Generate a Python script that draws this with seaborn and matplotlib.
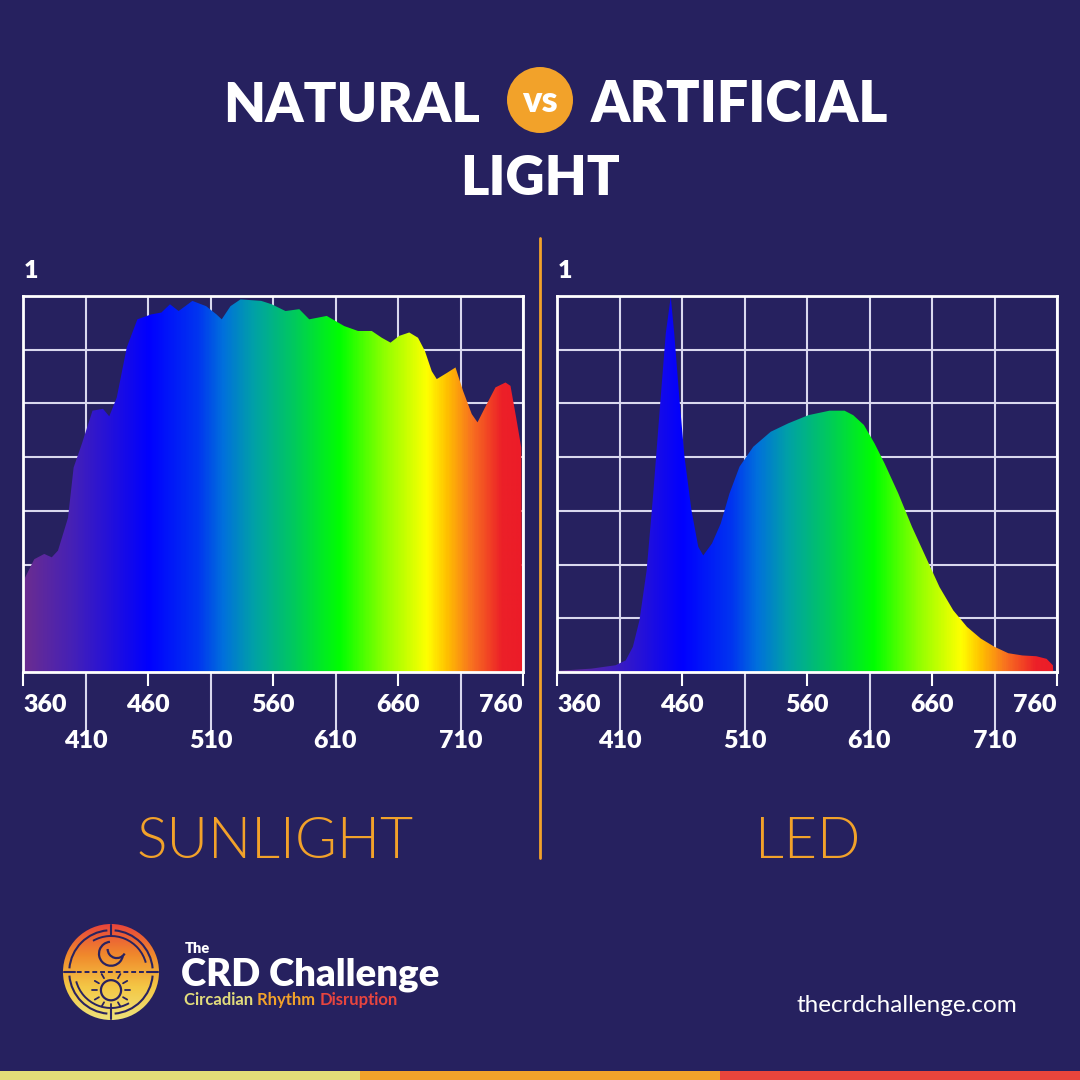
import numpy as np
import matplotlib
matplotlib.use('Agg')
import matplotlib.pyplot as plt
import seaborn as sns
from matplotlib.colors import LinearSegmentedColormap
from matplotlib.patches import Circle, Arc, Rectangle
from matplotlib.lines import Line2D

# sunlight spectrum (wavelength nm, relative power)
sun_nm = [360, 369, 377, 383, 388, 396, 400.5, 407, 415.6, 424, 429, 435, 443, 451.5,
          462.5, 470.7, 477.6, 484.5, 495.5, 506.5, 514.8, 519, 526, 534, 550.6, 559,
          570, 581, 589, 603, 617, 628, 639, 647, 654, 661, 669, 676, 681.5, 687, 691,
          699.4, 706, 712, 719, 723.6, 729.7, 738, 746, 750, 754.5, 758.6, 759.5]
sun_val = [0.24, 0.30, 0.314, 0.305, 0.323, 0.41, 0.544, 0.606, 0.695, 0.70, 0.68, 0.73,
           0.863, 0.938, 0.951, 0.956, 0.978, 0.96, 0.987, 0.973, 0.951, 0.938, 0.973,
           0.991, 0.987, 0.978, 0.96, 0.965, 0.938, 0.947, 0.92, 0.907, 0.907, 0.889,
           0.876, 0.894, 0.903, 0.889, 0.854, 0.80, 0.779, 0.796, 0.81, 0.748, 0.686,
           0.664, 0.704, 0.757, 0.77, 0.761, 0.677, 0.597, 0.0]

# white LED spectrum
led_nm = [360, 387.6, 406.9, 415, 420.7, 426, 431.7, 437, 442.8, 447, 451, 453.8, 458,
          462, 467.6, 473, 477, 484, 491, 498, 506, 517, 531, 544.8, 561, 578, 590, 597,
          605.5, 614, 622, 633, 644, 655, 666, 677, 688, 699, 710, 721, 732.4, 743.4,
          751.7, 756.7, 757]
led_val = [0.003, 0.009, 0.018, 0.031, 0.067, 0.138, 0.27, 0.475, 0.724, 0.90, 0.998,
           0.90, 0.724, 0.572, 0.43, 0.333, 0.31, 0.342, 0.395, 0.475, 0.546, 0.599,
           0.639, 0.661, 0.683, 0.695, 0.695, 0.683, 0.657, 0.608, 0.555, 0.475, 0.386,
           0.306, 0.226, 0.164, 0.12, 0.089, 0.067, 0.05, 0.044, 0.042, 0.035, 0.018, 0.0]

major_ticks = [360, 460, 560, 660, 760]
minor_ticks = [410, 510, 610, 710]
panel_names = ['SUNLIGHT', 'LED']

BG = '#26215f'
ORANGE = '#f2a22a'
GRID = '#d9d8ee'
PX = 1080.0

spectrum = LinearSegmentedColormap.from_list('spec', [
    (0.00, '#6b2d90'), (0.10, '#4420b8'), (0.25, '#0000ff'), (0.35, '#0035f0'),
    (0.40, '#0070dc'), (0.46, '#00a0a8'), (0.54, '#00c860'), (0.635, '#00ff00'),
    (0.725, '#90ff00'), (0.81, '#ffff00'), (0.85, '#ffc000'), (0.90, '#f87020'),
    (0.96, '#ec2028'), (1.00, '#ec1c28')])

sns.set_theme(style='white')
plt.rcParams['font.family'] = ['Lato', 'DejaVu Sans']

fig = plt.figure(figsize=(10.8, 10.8), dpi=100, facecolor=BG)


def fx(x):
    return x / PX


def fy(y):
    return 1 - y / PX


def draw_panel(ax, nm, vals):
    ax.set_facecolor(BG)
    sns.lineplot(x=nm, y=vals, ax=ax, color='white', linewidth=0)
    poly = ax.fill_between(nm, vals, 0, facecolor='none', edgecolor='none')
    grad = np.linspace(0, 1, 600).reshape(1, -1)
    im = ax.imshow(grad, extent=[360, 760, 0, 1], aspect='auto', cmap=spectrum,
                   zorder=2, interpolation='bilinear')
    im.set_clip_path(poly.get_paths()[0], transform=ax.transData)
    ax.set_xlim(360, 760)
    ax.set_ylim(0, 1)
    ax.set_xlabel('')
    ax.set_ylabel('')

    ax.set_xticks(major_ticks)
    ax.set_xticklabels([str(t) for t in major_ticks])
    ax.set_xticks(minor_ticks, minor=True)
    ax.set_xticklabels([str(t) for t in minor_ticks], minor=True)
    ax.set_yticks(np.linspace(0, 1, 8))
    ax.set_yticklabels([])
    ax.tick_params(axis='x', which='both', bottom=True, direction='out', width=1.5,
                   labelcolor='white', labelsize=18)
    ax.tick_params(axis='x', which='major', length=10, pad=6, color='white')
    ax.tick_params(axis='x', which='minor', length=48, pad=-6, color=GRID)
    ax.tick_params(axis='y', length=0, left=False)
    for lab in ax.get_xticklabels() + ax.get_xticklabels(minor=True):
        lab.set_fontweight('heavy')
    labs = ax.get_xticklabels()
    labs[0].set_horizontalalignment('left')
    labs[-1].set_horizontalalignment('right')

    ax.set_axisbelow(True)
    ax.grid(True, which='both', axis='x', color=GRID, linewidth=1.5)
    ax.grid(True, which='major', axis='y', color=GRID, linewidth=1.5)
    for sp in ax.spines.values():
        sp.set_visible(True)
        sp.set_color('white')
        sp.set_linewidth(2)
        sp.set_zorder(3)


ax1 = fig.add_axes([fx(23), fy(672), fx(500), fx(376)])
ax2 = fig.add_axes([fx(557), fy(672), fx(500), fx(376)])
draw_panel(ax1, sun_nm, sun_val)
draw_panel(ax2, led_nm, led_val)

# "1" labels on the y scale
fig.text(fx(24), fy(278), '1', color='white', fontsize=18, fontweight='heavy',
         ha='left', va='baseline')
fig.text(fx(558), fy(278), '1', color='white', fontsize=18, fontweight='heavy',
         ha='left', va='baseline')

# panel names
for name, cx in zip(panel_names, [275, 808]):
    fig.text(fx(cx), fy(858), name, color=ORANGE, fontsize=41, fontweight=300,
             ha='center', va='baseline')

# divider
fig.add_artist(Line2D([fx(540), fx(540)], [fy(238), fy(858)], transform=fig.transFigure,
                      color=ORANGE, linewidth=2))

# title
fig.text(fx(480), fy(122), 'NATURAL', color='white', fontsize=39, fontweight='heavy',
         ha='right', va='baseline')
fig.text(fx(591), fy(122), 'ARTIFICIAL', color='white', fontsize=40, fontweight='heavy',
         ha='left', va='baseline')
fig.text(fx(540), fy(195), 'LIGHT', color='white', fontsize=39, fontweight='heavy',
         ha='center', va='baseline')
fig.add_artist(Circle((fx(540), fy(100)), fx(33), transform=fig.transFigure,
                      facecolor=ORANGE, edgecolor='none'))
fig.text(fx(540), fy(112), 'vs', color='white', fontsize=26, fontweight='heavy',
         ha='center', va='baseline')

# logo
lax = fig.add_axes([fx(63), fy(1020), fx(96), fx(96)])
lax.set_xlim(-1, 1)
lax.set_ylim(-1, 1)
lax.axis('off')
disc = Circle((0, 0), 1, transform=lax.transData)
lgrad = np.linspace(0, 1, 200).reshape(-1, 1)
logo_cmap = LinearSegmentedColormap.from_list('logo', ['#e8433c', '#f08a2c', '#f4c846', '#efe27a'])
lim = lax.imshow(lgrad, extent=[-1, 1, -1, 1], origin='upper', cmap=logo_cmap, aspect='auto')
lim.set_clip_path(disc)
NAVY = '#2a2360'
for t1, t2 in [(95, 175), (185, 265), (275, 355), (5, 85)]:
    lax.add_patch(Arc((0, 0), 1.74, 1.74, theta1=t1, theta2=t2, color=NAVY, lw=1.5))
lax.add_patch(Arc((0, 0), 1.5, 1.5, theta1=195, theta2=300, color=NAVY, lw=1.4))
lax.add_patch(Arc((0, 0), 1.5, 1.5, theta1=15, theta2=120, color=NAVY, lw=1.4))
for a in [0, 90, 180, 270]:
    t = np.deg2rad(a)
    lax.plot([0.76 * np.cos(t), 0.98 * np.cos(t)], [0.76 * np.sin(t), 0.98 * np.sin(t)],
             color=NAVY, lw=1.5)
lax.plot([-0.88, 0.88], [0.0, 0.0], color=NAVY, lw=1.4, linestyle=(0, (2.5, 1.5)))
lax.add_patch(Arc((0.0, 0.38), 0.5, 0.5, theta1=95, theta2=350, color=NAVY, lw=1.6))
lax.add_patch(Arc((0.12, 0.48), 0.38, 0.38, theta1=180, theta2=330, color=NAVY, lw=1.6))
lax.add_patch(Circle((0, -0.38), 0.21, fill=False, edgecolor=NAVY, lw=1.6))
for a in np.arange(0, 360, 30):
    if 60 < a < 120:
        continue
    t = np.deg2rad(a)
    lax.plot([0.29 * np.cos(t), 0.39 * np.cos(t)], [-0.38 + 0.29 * np.sin(t), -0.38 + 0.39 * np.sin(t)],
             color=NAVY, lw=1.3)

fig.text(fx(185), fy(953), 'The', color='white', fontsize=10.5, fontweight='heavy',
         ha='left', va='baseline')
fig.text(fx(181), fy(985), 'CRD Challenge', color='white', fontsize=27.5, fontweight='heavy',
         ha='left', va='baseline')
sub_x = 184
for word, col in [('Circadian ', '#e2dc7c'), ('Rhythm ', '#f2a22a'), ('Disruption', '#e8453f')]:
    t = fig.text(fx(sub_x), fy(1005), word, color=col, fontsize=12, fontweight='bold',
                 ha='left', va='baseline')
    fig.canvas.draw()
    bb = t.get_window_extent()
    sub_x += bb.width

fig.text(fx(1017), fy(1012), 'thecrdchallenge.com', color='white', fontsize=17.5,
         ha='right', va='baseline')

# bottom colour strip
for x0, col in [(0, '#e3dd78'), (360, '#f2a22a'), (720, '#e8453c')]:
    fig.add_artist(Rectangle((fx(x0), 0), fx(360), fx(9), transform=fig.transFigure,
                             facecolor=col, edgecolor='none'))

fig.savefig('out.png', dpi=100, facecolor=BG)
